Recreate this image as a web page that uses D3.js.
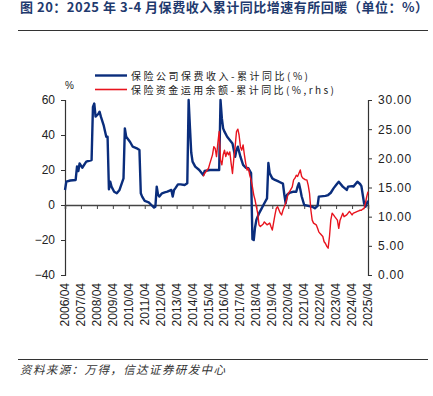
<!DOCTYPE html>
<html lang="zh">
<head>
<meta charset="UTF-8">
<title>保费收入累计同比</title>
<script src="https://d3js.org/d3.v7.min.js"></script>
<style>
  body { margin: 0; background: #fff; }
  svg { display: block; }
</style>
</head>
<body>
<svg width="433" height="396"></svg>
<script>
// 保险公司保费收入-累计同比(%)  (left axis)
const premiumDates = ["2006-04","2006-05","2006-08","2006-12","2007-01","2007-02","2007-03","2007-05","2007-08","2007-12",
  "2008-01","2008-02","2008-03","2008-05","2008-06","2008-07","2008-09","2008-11","2008-12",
  "2009-01","2009-02","2009-03","2009-05","2009-07","2009-09","2009-12",
  "2010-01","2010-02","2010-05","2010-07","2010-10","2010-12",
  "2011-01","2011-02","2011-04","2011-07","2011-09","2011-11","2011-12",
  "2012-01","2012-02","2012-03","2012-05","2012-07","2012-09","2012-12",
  "2013-01","2013-02","2013-03","2013-05","2013-07","2013-10","2013-12",
  "2014-01","2014-02","2014-03","2014-04","2014-06","2014-09","2014-12",
  "2015-01","2015-05","2015-12",
  "2016-01","2016-02","2016-03","2016-04","2016-06","2016-10","2016-11","2016-12",
  "2017-01","2017-02","2017-04","2017-06","2017-08","2017-10","2017-12",
  "2018-01","2018-02","2018-03","2018-04","2018-06","2018-08","2018-10","2018-12",
  "2019-01","2019-02","2019-04","2019-06","2019-09","2019-12",
  "2020-01","2020-02","2020-03","2020-05","2020-08","2020-10","2020-11","2020-12",
  "2021-01","2021-02","2021-04","2021-07","2021-10","2021-12",
  "2022-02","2022-03","2022-08","2022-10","2022-12",
  "2023-02","2023-04","2023-06","2023-09","2023-12",
  "2024-01","2024-04","2024-05","2024-08","2024-10","2024-11",
  "2025-01","2025-02","2025-04"];
const premiumValues = [8.6,13.3,14,14.3,22,19.4,23.8,21.3,24.8,25.7,
  56,58,50.5,52,53.3,50.5,45.7,39,39,
  9,13.3,10.5,7.6,6.7,8.6,15.2,
  43.8,39,36,33.3,32.4,31.4,
  6.7,4.8,2.3,1.5,0,-1.5,-1,
  10.5,5.7,4.8,6.7,7.2,7.6,8.6,
  4.8,8.6,9.5,11.8,11.8,11.4,12.4,
  60,43.8,30,24.8,21.9,20,17.1,
  19.4,20,20,
  60,49.5,43.8,41.9,39,35.2,31.4,27.6,
  31.4,33.3,27.6,22.9,21.3,21,18.2,
  -19.5,-20,-13,-8.6,-4.8,-1.9,1,3.8,
  24,18.1,15.2,14.3,13.3,12.2,
  6,1,5.7,7,7.6,7.6,10.5,12.4,
  9,5,0,-0.5,-1,-1.9,
  -0.5,4.8,5.2,5.7,7,
  9.5,11.4,13.3,10.5,8.6,
  10.5,10.8,10.5,13.3,12,10.8,
  1,-1,2.5];

// 保险资金运用余额-累计同比(%,rhs)  (right axis)
const fundDates = ["2014-12","2015-01","2015-04","2015-05","2015-07","2015-08","2015-09","2015-10","2015-11","2015-12",
  "2016-01","2016-02","2016-03","2016-04","2016-05","2016-06","2016-07","2016-08","2016-09","2016-10","2016-11","2016-12",
  "2017-01","2017-02","2017-03","2017-04","2017-05","2017-06","2017-07","2017-08","2017-09","2017-10","2017-11","2017-12",
  "2018-01","2018-02","2018-03","2018-04","2018-05","2018-06","2018-07","2018-09","2018-10","2018-12",
  "2019-02","2019-03","2019-04","2019-06","2019-07","2019-08","2019-10","2019-11","2019-12",
  "2020-02","2020-03","2020-04","2020-05","2020-07","2020-08","2020-09","2020-10","2020-11",
  "2021-01","2021-02","2021-03","2021-05","2021-06","2021-07","2021-08","2021-09","2021-10","2021-11",
  "2022-01","2022-02","2022-03","2022-04","2022-06","2022-07","2022-08","2022-09","2022-10","2022-11","2022-12",
  "2023-01","2023-02","2023-03","2023-05","2023-06","2023-07","2023-08","2023-09","2023-10","2023-12",
  "2024-01","2024-02","2024-04","2024-05","2024-06","2024-08","2024-09","2024-10","2024-11","2024-12",
  "2025-01","2025-02","2025-03","2025-04"];
const fundValues = [16.9,17.4,18.3,19.1,20.6,22,21.7,20.3,22.6,24.6,
  19.7,18.9,20.6,21.4,20.3,21.1,20.6,21.1,19.1,17.4,20,22,
  24.6,25,24,22,21.4,22.3,20.6,19.1,18,18.3,17.1,16.3,
  15.1,13.7,12.9,11.7,10.6,8.6,8.3,8.7,9.1,8.6,
  8.9,8.3,7.7,10.3,11.4,11.7,10.6,10.3,11.1,
  12.3,13.1,14,14.3,15.1,16.3,16.6,17.1,16.9,
  18,16.9,16.6,16.3,16.3,15.4,14,11.1,9.4,8.9,
  8.6,8,7.4,7.1,6.6,5.7,5.4,4.9,4.6,6.6,9.4,
  10.6,10.3,10,9.4,8,9.4,10,10.6,10,10.3,
  10.6,10.9,10.3,10.6,10.7,10.9,11,11.1,11.1,11.3,
  11.4,12.3,13.4,14.3];

const leftTicks = [-40,-20,0,20,40,60];
const rightTicks = [0,5,10,15,20,25,30];
const yearLabels = d3.range(2006, 2026).map(y => y + "/04");

const parse = d3.timeParse("%Y-%m");
const premium = premiumDates.map((d, i) => ({date: parse(d), value: premiumValues[i]}));
const fund = fundDates.map((d, i) => ({date: parse(d), value: fundValues[i]}));

const svg = d3.select("svg");
const font = "'Liberation Sans', Arial, sans-serif";
const cjk = "'Noto Sans CJK SC', sans-serif";

const x = d3.scaleTime()
    .domain([parse("2006-04"), parse("2025-04")])
    .range([65, 368]);
const yL = d3.scaleLinear().domain([-40, 60]).range([275, 100]);
const yR = d3.scaleLinear().domain([0, 30]).range([275, 100]);

// title and rules
svg.append("text")
    .attr("x", 20).attr("y", 12)
    .attr("textLength", 408).attr("lengthAdjust", "spacing")
    .attr("fill", "#1f3a6e")
    .style("font-family", cjk).style("font-size", "13px").style("font-weight", "bold")
    .text("图 20：2025 年 3-4 月保费收入累计同比增速有所回暖（单位：%）");

svg.append("line").attr("x1", 18).attr("x2", 428).attr("y1", 30.5).attr("y2", 30.5)
    .attr("stroke", "#333").attr("stroke-width", 1);
svg.append("line").attr("x1", 18).attr("x2", 428).attr("y1", 359.5).attr("y2", 359.5)
    .attr("stroke", "#333").attr("stroke-width", 1);

svg.append("text")
    .attr("x", 20).attr("y", 374)
    .attr("textLength", 205).attr("lengthAdjust", "spacing")
    .attr("fill", "#333")
    .style("font-family", cjk).style("font-size", "11.5px").style("font-style", "italic")
    .text("资料来源：万得，信达证券研发中心");

// left axis
const gL = svg.append("g").attr("transform", "translate(65,0)")
    .call(d3.axisLeft(yL).tickValues(leftTicks).tickSize(4).tickPadding(6).tickFormat(d => d < 0 ? "\u2212" + Math.abs(d) : d));
gL.select(".domain").attr("stroke", "#333").attr("stroke-width", 1.2);
gL.selectAll(".tick line").attr("stroke", "#333");
gL.selectAll("text").style("font-family", font).style("font-size", "12px").attr("fill", "#222");

// right axis
const gR = svg.append("g").attr("transform", "translate(368,0)")
    .call(d3.axisRight(yR).tickValues(rightTicks).tickSize(4).tickPadding(6).tickFormat(d3.format(".2f")));
gR.select(".domain").attr("stroke", "#333").attr("stroke-width", 1.2);
gR.selectAll(".tick line").attr("stroke", "#333");
gR.selectAll("text").style("font-family", font).style("font-size", "12px")
    .style("letter-spacing", "0.8px").attr("fill", "#222");

// x axis at zero line
const yearDates = yearLabels.map(s => d3.timeParse("%Y/%m")(s));
const gX = svg.append("g").attr("transform", `translate(0,${yL(0)})`)
    .call(d3.axisBottom(x).tickValues(yearDates).tickSize(4).tickFormat(""));
gX.select(".domain").attr("stroke", "#444").attr("stroke-width", 1.5);
gX.selectAll(".tick line").attr("stroke", "#444");

svg.append("g").selectAll("text")
    .data(yearDates)
    .join("text")
    .attr("transform", d => `translate(${x(d) + 4},283) rotate(-90)`)
    .attr("text-anchor", "end")
    .attr("fill", "#222")
    .style("font-family", font).style("font-size", "12px")
    .text((d, i) => yearLabels[i]);

svg.append("text").attr("x", 65).attr("y", 89)
    .style("font-family", font).style("font-size", "10px").attr("fill", "#222")
    .text("%");

// lines
const lineL = d3.line().x(d => x(d.date)).y(d => yL(d.value));
const lineR = d3.line().x(d => x(d.date)).y(d => yR(d.value));

svg.append("path").datum(premium)
    .attr("fill", "none").attr("stroke", "#0a2d7c").attr("stroke-width", 2.4)
    .attr("stroke-linejoin", "round")
    .attr("d", lineL);

svg.append("path").datum(fund)
    .attr("fill", "none").attr("stroke", "#e8141e").attr("stroke-width", 1.4)
    .attr("stroke-linejoin", "round")
    .attr("d", lineR);

// legend
const legend = [
  {label: "保险公司保费收入-累计同比(%)", color: "#0a2d7c", w: 2.4, y: 75.5, len: 177},
  {label: "保险资金运用余额-累计同比(%,rhs)", color: "#e8141e", w: 1.6, y: 89.5, len: 203}
];
const lg = svg.append("g").selectAll("g").data(legend).join("g");
lg.append("line").attr("x1", 95).attr("x2", 127)
    .attr("y1", d => d.y).attr("y2", d => d.y)
    .attr("stroke", d => d.color).attr("stroke-width", d => d.w);
lg.append("text").attr("x", 131).attr("y", d => d.y + 4)
    .attr("textLength", d => d.len).attr("lengthAdjust", "spacing")
    .attr("fill", "#222")
    .style("font-family", cjk).style("font-size", "10px")
    .text(d => d.label);
</script>
</body>
</html>
